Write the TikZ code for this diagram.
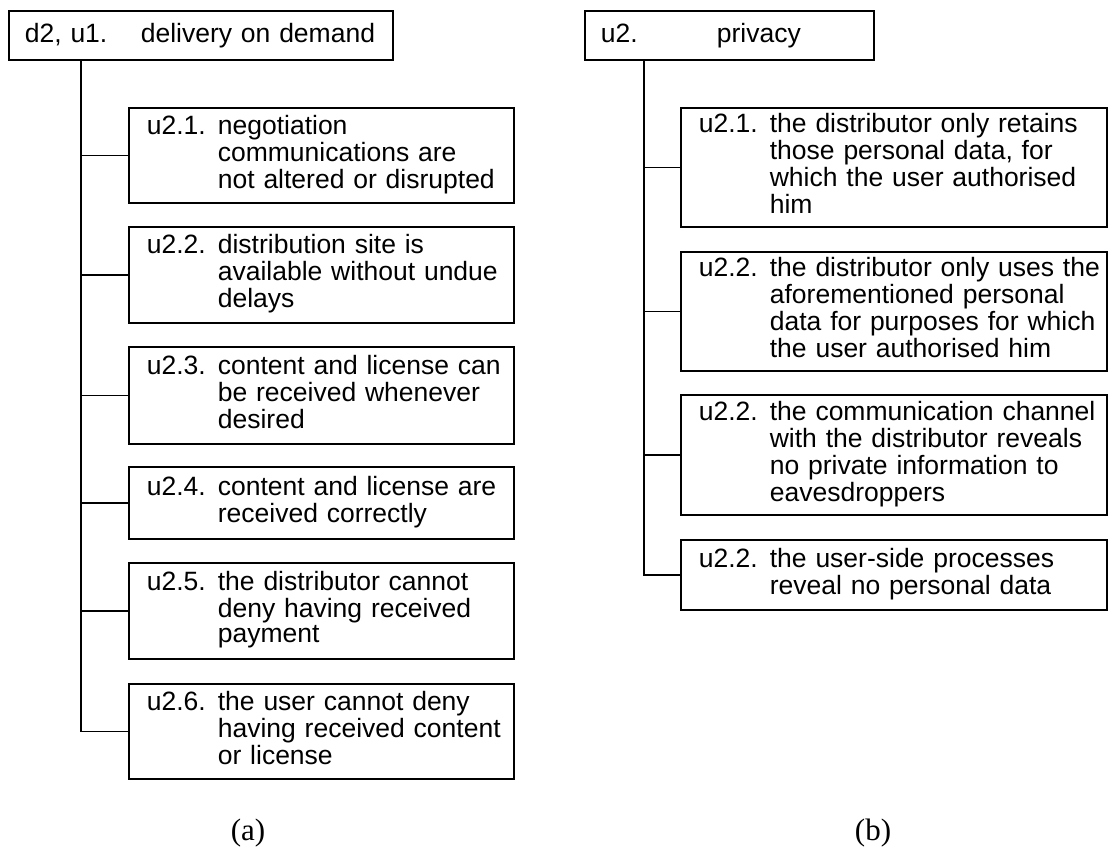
\documentclass[tikz,border=0pt]{standalone}
\usepackage{fontspec}
\setmainfont{Liberation Sans}
\newfontfamily\capfont{Liberation Serif}
\usepackage{array}
\newcommand\itembody[1]{\hspace*{18pt}\begin{tabular}{@{}p{71pt}@{}l@{}}#1\end{tabular}}
\newcommand\headbody[2]{\hspace*{16pt}\makebox[116pt][l]{#1}#2}
\tikzset{
  box/.style={draw, line width=1.7pt, anchor=north west, inner sep=0pt, align=left,
    font=\fontsize{26.5}{25.8}\selectfont},
  leftbox/.style={box, text width=385pt},
  rightbox/.style={box, text width=426pt},
  conn/.style={line width=1.7pt},
  caption/.style={font=\capfont\fontsize{31}{34}\selectfont, anchor=base}
}
\begin{document}
\begin{tikzpicture}[x=1pt,y=-1pt]
\useasboundingbox (0,0) rectangle (1108,846);
% (a)
\node[box, text width=384pt, minimum height=49pt] (L0) at (8,10) {\headbody{d2, u1.}{delivery on demand}};
\node[leftbox, minimum height=95pt] (L1) at (128,107) {\itembody{u2.1. & negotiation\\ & communications are\\ & not altered or disrupted}};
\node[leftbox, minimum height=96pt] (L2) at (128,226) {\itembody{u2.2. & distribution site is\\ & available without undue\\ & delays}};
\node[leftbox, minimum height=97pt] (L3) at (128,346) {\itembody{u2.3. & content and license can\\ & be received whenever\\ & desired}};
\node[leftbox, minimum height=72pt] (L4) at (128,466) {\itembody{u2.4. & content and license are\\ & received correctly}};
\node[leftbox, minimum height=96pt] (L5) at (128,562) {\itembody{u2.5. & the distributor cannot\\ & deny having received\\ & payment}};
\node[leftbox, minimum height=95pt] (L6) at (128,683) {\itembody{u2.6. & the user cannot deny\\ & having received content\\ & or license}};
\coordinate (LT) at (81,59);
\draw[conn] (LT) |- (L6.west);
\foreach \n in {L1,L2,L3,L4,L5} \draw[conn] (\n.west) -- (\n.west -| LT);
\node[caption] (CA) at (248,840) {(a)};
% (b)
\node[box, text width=289pt, minimum height=49pt] (R0) at (584,10) {\headbody{u2.}{privacy}};
\node[rightbox, minimum height=119pt] (R1) at (680,107) {\itembody{u2.1. & the distributor only retains\\ & those personal data, for\\ & which the user authorised\\ & him}};
\node[rightbox, minimum height=119pt] (R2) at (680,251) {\itembody{u2.2. & the distributor only uses the\\ & aforementioned personal\\ & data for purposes for which\\ & the user authorised him}};
\node[rightbox, minimum height=120pt] (R3) at (680,394) {\itembody{u2.2. & the communication channel\\ & with the distributor reveals\\ & no private information to\\ & eavesdroppers}};
\node[rightbox, minimum height=70pt] (R4) at (680,539) {\itembody{u2.2. & the user-side processes\\ & reveal no personal data}};
\coordinate (RT) at (644,59);
\draw[conn] (RT) |- (R4.west);
\foreach \n in {R1,R2,R3} \draw[conn] (\n.west) -- (\n.west -| RT);
\node[caption] (CB) at (873,840) {(b)};
\end{tikzpicture}
\end{document}
